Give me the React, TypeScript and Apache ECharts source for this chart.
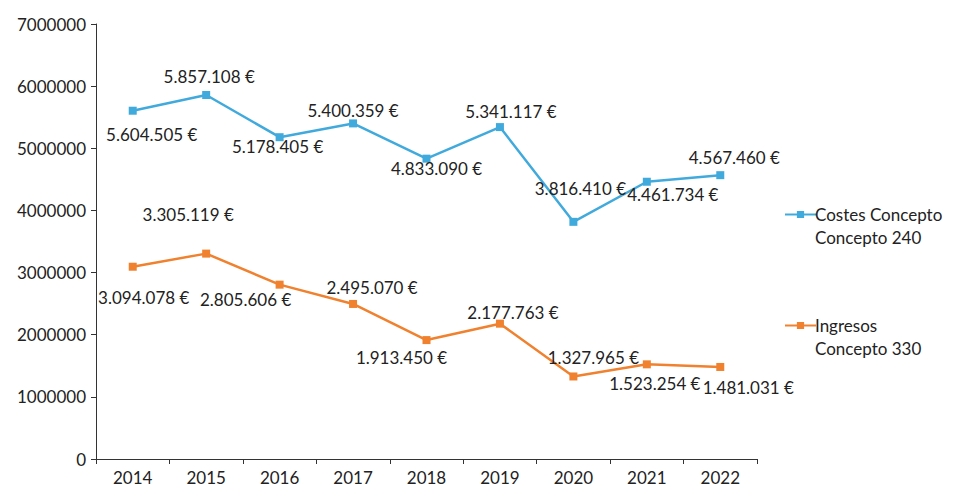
import React, { useEffect, useRef } from "react";
import * as echarts from "echarts";

const years = ["2014", "2015", "2016", "2017", "2018", "2019", "2020", "2021", "2022"];
const costes240 = [5604505, 5857108, 5178405, 5400359, 4833090, 5341117, 3816410, 4461734, 4567460];
const ingresos330 = [3094078, 3305119, 2805606, 2495070, 1913450, 2177763, 1327965, 1523254, 1481031];
const seriesNames = ["Costes Concepto\nConcepto 240", "Ingresos\nConcepto 330"];

// label offsets (layout only)
const costesLabelOffsets = [[19, 24], [3, -19], [-2, 9], [0, -13], [10, 10], [11, -16], [7, -33], [26, 13], [14, -18]];
const ingresosLabelOffsets = [[11, 31], [-18, -39], [-34, 15], [19, -16], [-25, 17], [13, -11], [20, -19], [8, 19], [28, 21]];

const FONT = "Lato, 'Open Sans', sans-serif";
const TEXT = "#222";
const BLUE = "#41aadd";
const ORANGE = "#f0812e";

const fmt = (n: number) => String(n).replace(/\B(?=(\d{3})+(?!\d))/g, ".") + " €";

function buildData(values: number[], offsets: number[][]) {
  return values.map((v, i) => ({
    value: v,
    label: { offset: offsets[i] },
  }));
}

export default function App() {
  const ref = useRef<HTMLDivElement>(null);
  useEffect(() => {
    if (!ref.current) return;
    const chart = echarts.init(ref.current, undefined, { renderer: "svg" });
    const labelBase = {
      show: true,
      position: "inside" as const,
      formatter: (p: any) => fmt(p.value),
      color: TEXT,
      fontSize: 17,
      fontFamily: FONT,
    };
    chart.setOption({
      animation: false,
      backgroundColor: "#fff",
      grid: { left: 96, right: 201, top: 24, bottom: 32 },
      legend: {
        orient: "vertical",
        left: 779,
        top: 175,
        itemGap: 42,
        itemWidth: 31,
        itemHeight: 9,
        formatter: (name: string) => "\n" + name,
        textStyle: { color: TEXT, fontSize: 17, fontFamily: FONT, lineHeight: 23, padding: [0, 0, 0, -6] },
        data: seriesNames,
      },
      xAxis: {
        type: "category",
        data: years,
        axisLine: { lineStyle: { color: "#333", width: 1 } },
        axisTick: { show: true, length: 5, lineStyle: { color: "#333" } },
        axisLabel: { color: TEXT, fontSize: 17, fontFamily: FONT, margin: 10 },
        splitLine: { show: false },
      },
      yAxis: {
        type: "value",
        min: 0,
        max: 7000000,
        interval: 1000000,
        axisLine: { show: true, lineStyle: { color: "#333", width: 1 } },
        axisTick: { show: true, length: 5, lineStyle: { color: "#333" } },
        axisLabel: { color: TEXT, fontSize: 17, fontFamily: FONT, margin: 10, formatter: (v: number) => String(v) },
        splitLine: { show: false },
      },
      series: [
        {
          name: seriesNames[0],
          type: "line",
          data: buildData(costes240, costesLabelOffsets),
          symbol: "rect",
          symbolSize: 8,
          color: BLUE,
          lineStyle: { color: BLUE, width: 2.5 },
          itemStyle: { color: BLUE },
          label: labelBase,
        },
        {
          name: seriesNames[1],
          type: "line",
          data: buildData(ingresos330, ingresosLabelOffsets),
          symbol: "rect",
          symbolSize: 8,
          color: ORANGE,
          lineStyle: { color: ORANGE, width: 2.5 },
          itemStyle: { color: ORANGE },
          label: labelBase,
        },
      ],
    });
    return () => chart.dispose();
  }, []);
  return (
    <div
      ref={ref}
      style={{ position: "fixed", left: 0, top: 0, width: 958, height: 491, background: "#fff" }}
    />
  );
}
